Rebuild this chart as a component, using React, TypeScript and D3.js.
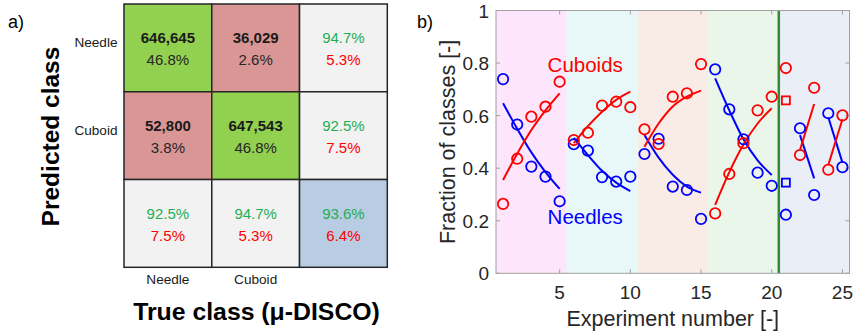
import React from 'react';
import * as d3 from 'd3';

// ---------- Panel a data ----------
const classes = ['Needle', 'Cuboid'];
const cellCounts = [
  ['646,645', '36,029'],
  ['52,800', '647,543'],
];
const cellPercents = [
  ['46.8%', '2.6%'],
  ['3.8%', '46.8%'],
];
const rowCorrect = ['94.7%', '92.5%'];
const rowWrong = ['5.3%', '7.5%'];
const colCorrect = ['92.5%', '94.7%'];
const colWrong = ['7.5%', '5.3%'];
const totalCorrect = '93.6%';
const totalWrong = '6.4%';

// ---------- Panel b data ----------
const experiments = [1, 2, 3, 4, 5, 6, 7, 8, 9, 10, 11, 12, 13, 14, 15, 16, 17, 18, 19, 20, 21, 22, 23, 24, 25];
const needles = [0.739, 0.566, 0.406, 0.368, 0.274, 0.491, 0.467, 0.366, 0.349, 0.368, 0.454, 0.512, 0.33, 0.317, 0.207, 0.776, 0.624, 0.51, 0.383, 0.333, 0.223, 0.552, 0.298, 0.609, 0.404];
const cuboids = [0.264, 0.436, 0.596, 0.634, 0.729, 0.507, 0.535, 0.638, 0.653, 0.632, 0.548, 0.492, 0.672, 0.685, 0.796, 0.228, 0.378, 0.495, 0.62, 0.672, 0.781, 0.45, 0.706, 0.394, 0.601];
const squareExperiment = [21];
const needlesSquare = [0.345];
const cuboidsSquare = [0.658];

const fitX = [[1, 2, 3, 4, 5], [6, 7, 8, 9, 10], [11, 12, 13, 14, 15], [16, 17, 18, 19, 20], [22, 23], [24, 25]];
const needleFit = [
  [0.647, 0.55, 0.46, 0.385, 0.321],
  [0.515, 0.45, 0.39, 0.345, 0.313],
  [0.526, 0.44, 0.375, 0.33, 0.307],
  [0.742, 0.62, 0.51, 0.43, 0.374],
  [0.526, 0.361],
  [0.594, 0.421],
];
const cuboidFit = [
  [0.355, 0.455, 0.545, 0.62, 0.685],
  [0.495, 0.56, 0.615, 0.66, 0.691],
  [0.482, 0.57, 0.635, 0.672, 0.695],
  [0.26, 0.385, 0.49, 0.57, 0.628],
  [0.469, 0.644],
  [0.412, 0.586],
];
const bandEdges = [0.5, 5.5, 10.5, 15.5, 20.5, 25.5];
const bandColors = ['#fde5fb', '#e8f8f8', '#f9ece6', '#e9f6e9', '#e9eef7'];
const dividerAt = [20.5];
const xTicks = [5, 10, 15, 20, 25];
const yTicks = [0, 0.2, 0.4, 0.6, 0.8, 1];
const yTickLabels = ['0', '0.2', '0.4', '0.6', '0.8', '1'];

const FONT = 'Liberation Sans, Arial, Helvetica, sans-serif';
const BLUE = '#0000ff';
const RED = '#ff0000';
const GREEN_TXT = '#1fae55';

function ConfusionMatrix() {
  const band = d3.scaleBand<number>().domain([0, 1, 2]).range([124, 387.3]);
  const rowBand = d3.scaleBand<number>().domain([0, 1, 2]).range([4, 267.3]);
  const w = band.bandwidth();
  const h = rowBand.bandwidth();
  const cells: any[] = [];
  for (let r = 0; r < 3; r++) {
    for (let c = 0; c < 3; c++) {
      let fill = '#f2f2f2';
      let l1 = '', l2 = '', c1 = '#1a1a1a', c2 = '#262626', bold = false;
      if (r < 2 && c < 2) {
        fill = r === c ? '#92d050' : '#da9694';
        l1 = cellCounts[r][c];
        l2 = cellPercents[r][c];
        bold = true;
      } else if (r < 2 && c === 2) {
        l1 = rowCorrect[r]; l2 = rowWrong[r]; c1 = GREEN_TXT; c2 = RED;
      } else if (r === 2 && c < 2) {
        l1 = colCorrect[c]; l2 = colWrong[c]; c1 = GREEN_TXT; c2 = RED;
      } else {
        fill = '#b8cce4';
        l1 = totalCorrect; l2 = totalWrong; c1 = GREEN_TXT; c2 = RED;
      }
      const x = band(c)!;
      const y = rowBand(r)!;
      const cx = x + w / 2;
      const cy = y + h / 2;
      cells.push(
        <g key={`${r}-${c}`}>
          <rect x={x} y={y} width={w} height={h} fill={fill} stroke="#262626" strokeWidth={1.5} />
          <text x={cx} y={cy - 4.5} textAnchor="middle" fontSize={15} fontWeight={bold ? 'bold' : 'normal'} fill={c1}>{l1}</text>
          <text x={cx} y={cy + 17.5} textAnchor="middle" fontSize={15} fill={c2}>{l2}</text>
        </g>
      );
    }
  }
  return (
    <g fontFamily={FONT}>
      {cells}
      {classes.map((name, i) => (
        <text key={'r' + name} x={117.5} y={rowBand(i)! + h / 2 - 0.5} textAnchor="end" fontSize={13.6} fill="#1a1a1a">{name}</text>
      ))}
      {classes.map((name, i) => (
        <text key={'c' + name} x={band(i)! + w / 2} y={283.5} textAnchor="middle" fontSize={13.6} fill="#1a1a1a">{name}</text>
      ))}
      <text transform={`translate(58.5,136.5) rotate(-90)`} textAnchor="middle" fontSize={24.5} fontWeight="bold" fill="#000">Predicted class</text>
      <text x={256.5} y={320} textAnchor="middle" fontSize={24.8} fontWeight="bold" fill="#000">True class (μ-DISCO)</text>
      <text x={8} y={28} fontSize={18} fill="#000">a)</text>
    </g>
  );
}

function FractionPlot() {
  const x = d3.scaleLinear().domain([0.5, 25.5]).range([496, 849.5]);
  const y = d3.scaleLinear().domain([0, 1]).range([273.3, 10.5]);
  const [x0, x1] = x.range();
  const [y0, y1] = y.range();
  const line = d3
    .line<[number, number]>()
    .x((d) => x(d[0]))
    .y((d) => y(d[1]))
    .curve(d3.curveMonotoneX);
  const axisColor = '#a0a0a0';
  return (
    <g fontFamily={FONT}>
      {bandColors.map((col, i) => (
        <rect key={'b' + i} x={x(bandEdges[i])} y={y1} width={x(bandEdges[i + 1]) - x(bandEdges[i])} height={y0 - y1} fill={col} />
      ))}
      {dividerAt.map((d) => (
        <line key={'d' + d} x1={x(d)} x2={x(d)} y1={y1} y2={y0} stroke="#2e8b2e" strokeWidth={2.5} />
      ))}
      {/* axes box */}
      <rect x={x0} y={y1} width={x1 - x0} height={y0 - y1} fill="none" stroke={axisColor} strokeWidth={1} />
      {xTicks.map((t) => (
        <g key={'xt' + t}>
          <line x1={x(t)} x2={x(t)} y1={y0} y2={y0 - 4} stroke={axisColor} />
          <line x1={x(t)} x2={x(t)} y1={y1} y2={y1 + 4} stroke={axisColor} />
          <text x={x(t)} y={y0 + 26} textAnchor="middle" fontSize={19} fill="#262626">{t}</text>
        </g>
      ))}
      {yTicks.map((t, i) => (
        <g key={'yt' + t}>
          <line x1={x0} x2={x0 + 4} y1={y(t)} y2={y(t)} stroke={axisColor} />
          <line x1={x1} x2={x1 - 4} y1={y(t)} y2={y(t)} stroke={axisColor} />
          <text x={x0 - 7} y={y(t) + 7} textAnchor="end" fontSize={19} fill="#262626">{yTickLabels[i]}</text>
        </g>
      ))}
      {/* fitted curves */}
      {fitX.map((xs, i) => (
        <g key={'f' + i}>
          <path d={line(xs.map((v, j) => [v, needleFit[i][j]]) as [number, number][])!} fill="none" stroke={BLUE} strokeWidth={2} />
          <path d={line(xs.map((v, j) => [v, cuboidFit[i][j]]) as [number, number][])!} fill="none" stroke={RED} strokeWidth={2} />
        </g>
      ))}
      {/* markers */}
      {experiments.map((e, i) => (
        <g key={'m' + e}>
          <circle cx={x(e)} cy={y(needles[i])} r={5.2} fill="none" stroke={BLUE} strokeWidth={1.8} />
          <circle cx={x(e)} cy={y(cuboids[i])} r={5.2} fill="none" stroke={RED} strokeWidth={1.8} />
        </g>
      ))}
      {squareExperiment.map((e, i) => (
        <g key={'s' + e}>
          <rect x={x(e) - 4} y={y(needlesSquare[i]) - 4} width={8} height={8} fill="none" stroke={BLUE} strokeWidth={1.8} />
          <rect x={x(e) - 4} y={y(cuboidsSquare[i]) - 4} width={8} height={8} fill="none" stroke={RED} strokeWidth={1.8} />
        </g>
      ))}
      <text x={x(4.15)} y={y(0.766)} fontSize={20.5} fill={RED}>Cuboids</text>
      <text x={x(4.15)} y={y(0.186)} fontSize={20.5} fill={BLUE}>Needles</text>
      <text transform={`translate(455,${(y0 + y1) / 2}) rotate(-90)`} textAnchor="middle" fontSize={21.5} fill="#262626">Fraction of classes [-]</text>
      <text x={(x0 + x1) / 2} y={326} textAnchor="middle" fontSize={21.5} fill="#262626">Experiment number [-]</text>
      <text x={417} y={28} fontSize={18} fill="#000">b)</text>
    </g>
  );
}

export default function App() {
  return (
    <svg
      width={859}
      height={332}
      style={{ position: 'absolute', left: 0, top: 0, background: '#fff' }}
    >
      <rect x={0} y={0} width={859} height={332} fill="#fff" />
      <ConfusionMatrix />
      <FractionPlot />
    </svg>
  );
}
